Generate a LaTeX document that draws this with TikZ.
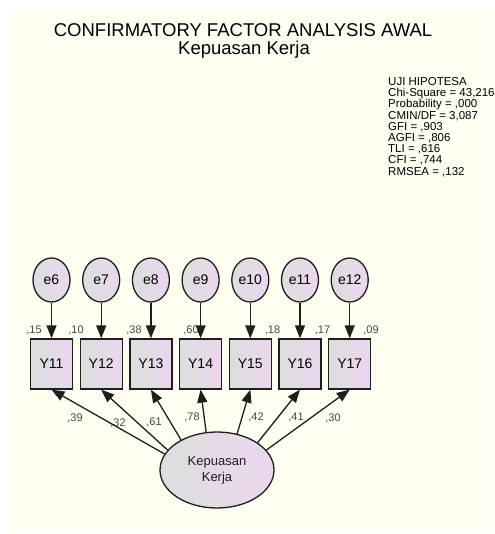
\documentclass[tikz,border=0pt]{standalone}
\usepackage{fontspec}
\setmainfont{Liberation Sans}
\usetikzlibrary{arrows.meta,shapes.geometric}
\definecolor{cream}{RGB}{254,255,240}
\definecolor{gfill}{RGB}{220,222,222}
\definecolor{pfill}{RGB}{236,214,238}
\definecolor{stroke}{RGB}{30,30,30}
\definecolor{lbl}{RGB}{70,70,70}
\tikzset{
  errvar/.style={ellipse, draw=stroke, line width=1.3pt, left color=gfill, right color=pfill,
    minimum width=37pt, minimum height=44pt, inner sep=0pt, font=\fontsize{14}{14}\selectfont},
  obsvar/.style={rectangle, draw=stroke, line width=1.3pt, left color=gfill, right color=pfill,
    minimum width=42pt, minimum height=50pt, inner sep=0pt, font=\fontsize{14}{14}\selectfont},
  latvar/.style={ellipse, draw=stroke, line width=1.3pt, left color=gfill, right color=pfill,
    minimum width=114pt, minimum height=76pt, inner sep=0pt, align=center,
    font=\fontsize{13}{16}\selectfont, text=stroke},
  conn/.style={draw=stroke, line width=1.3pt, -{Triangle[length=13pt,width=10pt]}},
  est/.style={font=\fontsize{11}{11}\selectfont, text=lbl, inner sep=0pt},
}
\begin{document}
\begin{tikzpicture}[x=1pt,y=-1pt]
\useasboundingbox (0,0) rectangle (494,534);
\fill[cream] (10,10) rectangle (494,532);
% titles
\node[anchor=base, font=\fontsize{18.5}{18.5}\selectfont, inner sep=0pt] (t1) at (243,36.7) {CONFIRMATORY FACTOR ANALYSIS AWAL};
\node[anchor=base, font=\fontsize{18.5}{18.5}\selectfont, inner sep=0pt] (t2) at (244,54.5) {Kepuasan Kerja};
% fit statistics
\node[anchor=north west, align=left, inner sep=0pt, font=\fontsize{11.5}{11.2}\selectfont] (fit) at (388,77.3)
 {UJI HIPOTESA\\Chi-Square = 43,216\\Probability = ,000\\CMIN/DF = 3,087\\GFI = ,903\\AGFI = ,806\\TLI = ,616\\CFI = ,744\\RMSEA = ,132};
% error terms
\node[errvar] (e6)  at (51.5,280) {e6};
\node[errvar] (e7)  at (101.2,280) {e7};
\node[errvar] (e8)  at (150.9,280) {e8};
\node[errvar] (e9)  at (200.6,280) {e9};
\node[errvar] (e10) at (250.3,280) {e10};
\node[errvar] (e11) at (300,280) {e11};
\node[errvar] (e12) at (349.7,280) {e12};
% observed
\node[obsvar] (Y11) at (51.5,364) {Y11};
\node[obsvar] (Y12) at (101.2,364) {Y12};
\node[obsvar] (Y13) at (150.9,364) {Y13};
\node[obsvar] (Y14) at (200.6,364) {Y14};
\node[obsvar] (Y15) at (250.3,364) {Y15};
\node[obsvar] (Y16) at (300,364) {Y16};
\node[obsvar] (Y17) at (349.7,364) {Y17};
% latent
\node[latvar] (K) at (217,470) {Kepuasan\\Kerja};
% error arrows
\foreach \e/\y in {e6/Y11,e7/Y12,e8/Y13,e9/Y14,e10/Y15,e11/Y16,e12/Y17}
  \draw[conn] (\e) -- (\y);
% loading arrows
\draw[conn] (K.163) -- (Y11.south);
\draw[conn] (K.158) -- (Y12.south);
\draw[conn] (K.140) -- (Y13.south);
\draw[conn] (K.106) -- (Y14.south);
\draw[conn] (K.61) -- (Y15.south);
\draw[conn] (K.34) -- (Y16.south);
\draw[conn] (K.22) -- (Y17.south);
% squared multiple correlations
\node[est] (r11) at (34,330) {,15};
\node[est] (r12) at (76,330) {,10};
\node[est] (r13) at (134,330) {,38};
\node[est] (r14) at (191,330) {,60};
\node[est] (r15) at (272.5,330) {,18};
\node[est] (r16) at (322.5,330) {,17};
\node[est] (r17) at (371,330) {,09};
% loadings
\node[est] (l11) at (75,418) {,39};
\node[est] (l12) at (118,423) {,32};
\node[est] (l13) at (154,422) {,61};
\node[est] (l14) at (192,417) {,78};
\node[est] (l15) at (256,417) {,42};
\node[est] (l16) at (296,417) {,41};
\node[est] (l17) at (333,418) {,30};
\end{tikzpicture}
\end{document}
